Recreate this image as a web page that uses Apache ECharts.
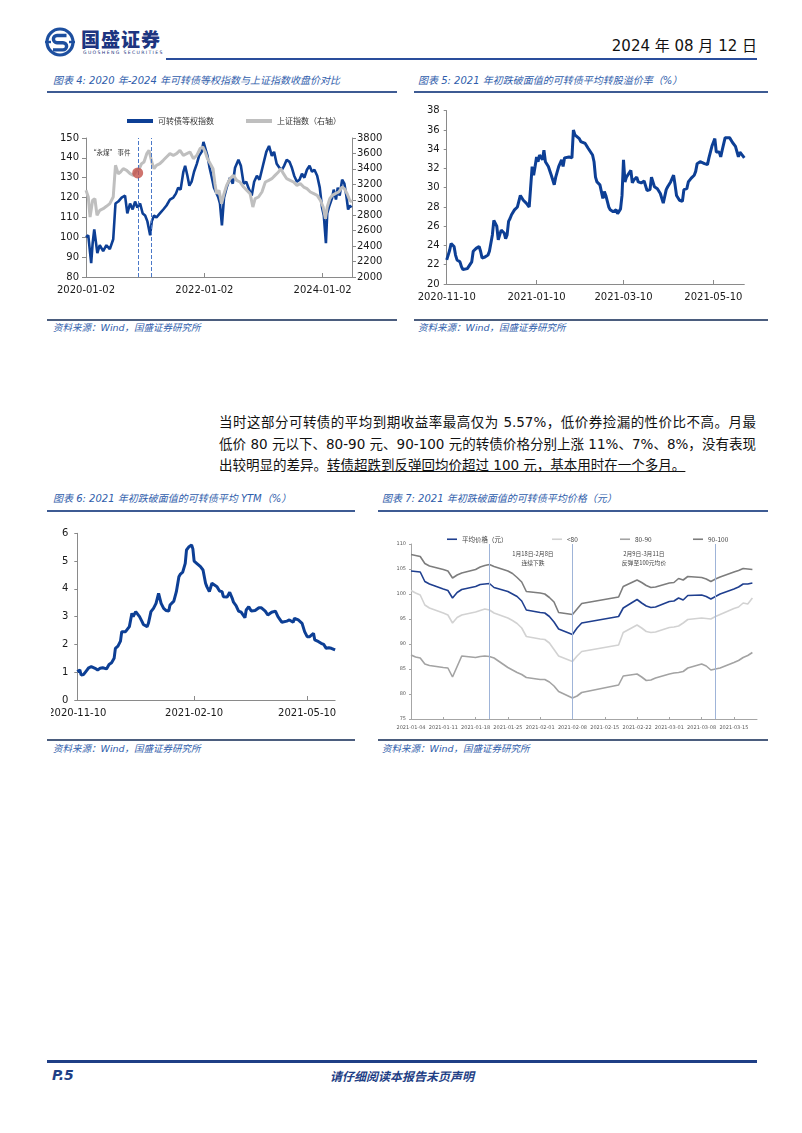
<!DOCTYPE html>
<html><head><meta charset="utf-8">
<script src="https://cdn.jsdelivr.net/npm/echarts@6/dist/echarts.min.js"></script>
<style>
html,body{margin:0;padding:0;background:#fff;}
body{width:802px;height:1133px;position:relative;overflow:hidden;font-family:"DejaVu Sans","Noto Sans CJK SC",sans-serif;}
.abs{position:absolute;white-space:nowrap;}
.ttl{position:absolute;white-space:nowrap;font-size:10px;line-height:12px;font-style:italic;color:#2f5dab;}
.src{position:absolute;white-space:nowrap;font-size:9.5px;line-height:12px;font-style:italic;color:#2f5dab;}
.uline{position:absolute;height:2px;background:#3e5b93;}
.sline{position:absolute;height:1.5px;background:#4b5d7e;}
.ch{position:absolute;overflow:hidden;}
.para{position:absolute;left:219px;width:537px;font-size:13.5px;line-height:18px;color:#111;white-space:nowrap;text-align:justify;text-align-last:justify;}
</style></head>
<body>
<!-- header -->
<svg class="abs" style="left:44px;top:27px" width="32" height="30" viewBox="0 0 32 30">
  <circle cx="16" cy="15" r="13" fill="none" stroke="#1d4f9f" stroke-width="3.2"/>
  <path d="M22.5 8.5 H13 a3.6 3.6 0 0 0 0 7.2 h6 a3.6 3.6 0 0 1 0 7.2 H9" fill="none" stroke="#1d4f9f" stroke-width="3.4"/>
  <rect x="1" y="13.8" width="6" height="2.4" fill="#1d4f9f"/>
  <rect x="25" y="13.8" width="6" height="2.4" fill="#1d4f9f"/>
</svg>
<div class="abs" style="left:81px;top:28px;font-size:19px;line-height:22px;font-weight:900;color:#1d3580;font-family:'Noto Sans CJK SC';letter-spacing:1px;">国盛证券</div>
<div class="abs" style="left:83px;top:50px;font-size:4.6px;line-height:5px;letter-spacing:1.35px;color:#1d3580;font-family:'DejaVu Sans';">GUOSHENG SECURITIES</div>
<div class="abs" style="right:45px;top:37px;font-size:15px;line-height:18px;color:#111;">2024 年 08 月 12 日</div>
<div class="abs" style="left:166px;top:58px;width:591px;height:2px;background:#2a4e9c;"></div>

<!-- chart titles row 1 -->
<div class="ttl" style="left:53px;top:75px;">图表 4: 2020 年-2024 年可转债等权指数与上证指数收盘价对比</div>
<div class="ttl" style="left:418px;top:75px;">图表 5: 2021 年初跌破面值的可转债平均转股溢价率（%）</div>
<div class="uline" style="left:47px;top:91px;width:350px;"></div>
<div class="uline" style="left:414px;top:91px;width:354px;"></div>

<div id="c4" class="ch" style="left:50px;top:95px;width:350px;height:222px;"></div>
<div id="c5" class="ch" style="left:412px;top:98px;width:356px;height:216px;"></div>

<div class="sline" style="left:47px;top:319px;width:350px;"></div>
<div class="sline" style="left:414px;top:319px;width:354px;"></div>
<div class="src" style="left:53px;top:322px;">资料来源：Wind，国盛证券研究所</div>
<div class="src" style="left:418px;top:322px;">资料来源：Wind，国盛证券研究所</div>

<!-- paragraph -->
<div class="para" style="top:413px;">当时这部分可转债的平均到期收益率最高仅为 5.57%，低价券捡漏的性价比不高。月最</div>
<div class="para" style="top:435px;">低价 80 元以下、80-90 元、90-100 元的转债价格分别上涨 11%、7%、8%，没有表现</div>
<div class="abs" style="left:219px;top:456px;font-size:13.5px;line-height:18px;color:#111;">出较明显的差异。<span style="text-decoration:underline;">转债超跌到反弹回均价超过 100 元，基本用时在一个多月。</span></div>

<!-- chart titles row 2 -->
<div class="ttl" style="left:53px;top:493px;">图表 6: 2021 年初跌破面值的可转债平均 YTM（%）</div>
<div class="ttl" style="left:382px;top:493px;">图表 7: 2021 年初跌破面值的可转债平均价格（元）</div>
<div class="uline" style="left:47px;top:510px;width:308px;"></div>
<div class="uline" style="left:378px;top:510px;width:390px;"></div>

<div id="c6" class="ch" style="left:51px;top:515px;width:300px;height:218px;"></div>
<div id="c7" class="ch" style="left:378px;top:515px;width:390px;height:220px;"></div>

<div class="sline" style="left:47px;top:739px;width:308px;"></div>
<div class="sline" style="left:378px;top:739px;width:390px;"></div>
<div class="src" style="left:53px;top:743px;">资料来源：Wind，国盛证券研究所</div>
<div class="src" style="left:382px;top:743px;">资料来源：Wind，国盛证券研究所</div>

<!-- footer -->
<div class="abs" style="left:47px;top:1060px;width:710px;height:2.5px;background:#1f3f86;"></div>
<div class="abs" style="left:52px;top:1067px;font-size:14px;line-height:16px;font-weight:bold;font-style:italic;color:#1f3f86;">P.5</div>
<div class="abs" style="left:330px;top:1068px;font-size:12px;line-height:15px;font-weight:bold;font-style:italic;color:#1f3f86;font-family:'Noto Sans CJK SC';">请仔细阅读本报告末页声明</div>

<script>
// ---------------- DATA ----------------
// Chart 4: 可转债等权指数 (left axis)
const c4CbDates = ['2020-01-02','2020-01-16','2020-02-03','2020-02-12','2020-02-22','2020-03-02','2020-03-12','2020-03-27','2020-04-17','2020-05-07','2020-05-28','2020-06-18','2020-07-02','2020-07-19','2020-08-09','2020-08-30','2020-09-13','2020-09-30','2020-10-16','2020-10-31','2020-11-14','2020-12-01','2020-12-17','2021-01-01','2021-01-15','2021-02-01','2021-02-11','2021-02-25','2021-03-12','2021-04-02','2021-04-23','2021-05-13','2021-06-03','2021-06-24','2021-07-10','2021-07-24','2021-08-08','2021-08-25','2021-09-05','2021-09-19','2021-10-01','2021-10-15','2021-10-30','2021-11-16','2021-11-30','2021-12-16','2021-12-27','2022-01-07','2022-01-21','2022-02-03','2022-02-17','2022-03-02','2022-03-14','2022-03-29','2022-04-08','2022-04-20','2022-05-03','2022-05-19','2022-06-09','2022-06-26','2022-07-10','2022-07-31','2022-08-15','2022-09-01','2022-09-17','2022-10-05','2022-10-21','2022-11-05','2022-11-22','2022-12-08','2022-12-29','2023-01-19','2023-02-05','2023-02-22','2023-03-08','2023-03-24','2023-04-10','2023-04-25','2023-05-09','2023-05-25','2023-06-11','2023-06-26','2023-07-10','2023-07-27','2023-08-12','2023-08-27','2023-09-11','2023-09-27','2023-10-13','2023-10-28','2023-11-12','2023-11-29','2023-12-15','2023-12-29','2024-01-09','2024-01-22','2024-01-30','2024-02-13','2024-03-01','2024-03-10','2024-03-24','2024-04-04','2024-04-16','2024-05-01','2024-05-15','2024-05-27','2024-06-07','2024-06-17','2024-06-28'];
const c4CbValues = [100,101,87,97,104,103,92,96,93,96,94,99,117,118,120,121,112,117,114,118,115,117,112,111,108,101,108,111,110,112,114,116,119,120,122,125,124,133,136,131,126,128,133,137,141,143,148,147,141,135,130,125,126,120,117,106,120,125,130,127,135,139,136,127,128,124,121,128,131,129,136,143,146,141,143,137,135,134,136,139,138,135,131,128,129,132,130,134,136,133,134,131,125,115,111,97,112,116,120,124,119,125,121,129,127,121,114,116,115];
// Chart 4: 上证指数 (right axis)
const c4SseDates = ['2020-01-02','2020-01-16','2020-01-27','2020-02-12','2020-02-26','2020-03-10','2020-03-27','2020-04-17','2020-05-07','2020-05-28','2020-06-18','2020-07-02','2020-07-19','2020-08-02','2020-08-19','2020-09-09','2020-09-30','2020-10-20','2020-11-10','2020-11-26','2020-12-10','2020-12-25','2021-01-11','2021-01-25','2021-02-11','2021-02-25','2021-03-12','2021-04-02','2021-04-23','2021-05-13','2021-06-03','2021-06-24','2021-07-14','2021-08-04','2021-08-25','2021-09-15','2021-10-05','2021-10-26','2021-11-16','2021-12-06','2021-12-23','2022-01-07','2022-01-21','2022-02-07','2022-02-24','2022-03-08','2022-03-18','2022-04-02','2022-04-18','2022-05-03','2022-05-19','2022-06-09','2022-06-30','2022-07-20','2022-08-10','2022-09-01','2022-09-21','2022-10-11','2022-10-28','2022-11-11','2022-12-02','2022-12-23','2023-01-13','2023-02-03','2023-02-22','2023-03-14','2023-04-04','2023-04-18','2023-05-05','2023-05-25','2023-06-15','2023-07-06','2023-07-27','2023-08-17','2023-09-07','2023-09-27','2023-10-18','2023-11-08','2023-11-29','2023-12-19','2024-01-05','2024-01-19','2024-01-30','2024-02-15','2024-03-01','2024-03-20','2024-04-10','2024-05-01','2024-05-15','2024-06-01','2024-06-17','2024-07-01'];
const c4SseValues = [3122,3036,2777,2993,3014,2798,2863,2885,2915,2950,3036,3446,3338,3360,3403,3381,3338,3316,3381,3403,3468,3489,3597,3640,3489,3403,3446,3468,3511,3554,3597,3576,3597,3640,3576,3597,3619,3532,3576,3662,3683,3619,3532,3468,3403,3209,3079,3122,2950,3079,3187,3273,3316,3252,3230,3165,3122,3079,2906,3014,3036,3101,3230,3252,3273,3316,3360,3403,3338,3273,3252,3230,3187,3209,3165,3144,3101,3079,3057,2993,2906,2755,2906,3014,3057,3079,3101,3165,3144,3079,2993,2971];
const c4EventDates = ['2020-11-20','2021-02-07'];
const c4EventPoint = ['2020-11-16', 3347];
const c4XLabels = ['2020-01-02','2022-01-02','2024-01-02'];

// Chart 5: 平均转股溢价率 (%), x = days since 2020-11-10
const c5Start = '2020-11-10';
const c5Days = [0,1,2,3,5,6,7,9,10,11,14,15,17,18,19,20,22,23,24,26,28,29,31,32,33,34,35,36,37,39,40,41,42,43,44,46,48,50,52,54,56,58,59,60,61,62,63,65,66,67,69,71,73,74,76,78,79,80,83,85,86,87,90,91,92,94,96,99,100,101,102,104,105,106,107,108,110,111,112,113,115,116,118,119,120,121,122,125,126,127,129,130,132,133,134,136,138,139,141,143,145,147,149,150,152,154,155,156,158,160,161,163,164,166,168,169,170,172,175,177,178,180,182,183,185,186,187,189,192,194,196,198,199,201,202];
const c5Values = [22.5,23.0,23.5,24.2,23.9,23.0,22.5,22.3,21.8,21.5,21.6,21.7,22.3,23.4,23.5,23.7,23.9,23.4,22.7,22.8,23.0,23.4,25.1,26.6,26.5,26.0,24.6,25.1,25.6,25.3,24.7,25.1,26.5,26.8,27.2,27.7,28.0,29.2,28.7,28.4,28.0,32.2,31.3,32.2,33.2,32.7,33.4,32.9,33.9,32.7,32.2,31.3,30.3,31.1,32.2,32.9,32.2,33.1,33.2,33.1,36.0,35.5,35.1,34.8,34.9,34.6,34.1,33.4,32.7,31.1,30.6,30.3,30.5,28.9,29.6,29.2,28.0,27.7,27.8,27.5,27.7,27.3,27.8,29.2,32.9,30.6,31.1,31.8,30.5,30.8,31.1,30.6,30.5,30.6,30.7,29.7,29.8,31.1,30.1,29.9,29.4,28.4,29.8,30.1,30.6,31.3,30.3,29.2,28.7,28.6,29.8,29.9,30.6,31.0,31.3,31.7,32.5,32.7,32.5,32.4,33.1,34.3,35.1,33.7,33.7,33.2,33.9,35.2,35.2,34.7,34.3,33.2,33.7,33.3,33.1];
const c5XLabels = ['2020-11-10','2021-01-10','2021-03-10','2021-05-10'];

// Chart 6: 平均 YTM (%), x = days since 2020-11-10
const c6Start = '2020-11-10';
const c6Days = [0,2,3,5,7,9,11,14,16,18,20,23,25,27,29,30,32,34,35,36,38,39,41,43,44,46,47,49,51,52,55,56,58,60,62,63,64,66,68,70,72,73,76,78,80,81,83,85,86,88,90,91,92,94,97,99,101,102,104,106,107,110,112,114,115,118,120,122,123,125,127,129,132,133,135,137,140,143,145,148,150,153,156,158,161,165,167,170,171,174,177,179,181,183,186,187,190,192,194,196,198,200,203];
const c6Values = [1.02,1.08,0.90,0.92,1.04,1.16,1.20,1.14,1.08,1.14,1.16,1.12,1.28,1.34,1.50,1.86,1.94,2.12,2.46,2.52,2.46,2.44,2.64,3.12,3.00,3.18,3.20,3.00,2.82,2.72,2.64,2.76,3.18,3.30,3.48,3.54,3.84,3.48,3.30,3.22,3.20,3.42,3.56,3.90,4.44,4.52,4.60,4.92,5.40,5.52,5.58,5.44,5.00,4.92,4.80,4.68,4.20,4.08,3.90,4.20,4.24,4.08,3.92,3.90,3.72,3.71,3.88,3.66,3.52,3.40,3.20,3.16,2.96,3.24,3.36,3.20,3.22,3.32,3.32,3.20,3.06,3.16,3.20,3.00,2.80,2.84,2.88,2.80,2.94,2.88,2.76,2.46,2.28,2.28,2.40,2.16,2.10,2.04,2.00,1.86,1.88,1.86,1.80];
const c6XLabels = ['2020-11-10','2021-02-10','2021-05-10'];

// Chart 7: 平均价格 (元) by price bucket, trading days
const c7Dates = ['2021-01-04','2021-01-05','2021-01-06','2021-01-07','2021-01-08','2021-01-11','2021-01-12','2021-01-13','2021-01-14','2021-01-15','2021-01-18','2021-01-19','2021-01-20','2021-01-21','2021-01-22','2021-01-25','2021-01-26','2021-01-27','2021-01-28','2021-01-29','2021-02-01','2021-02-02','2021-02-03','2021-02-04','2021-02-05','2021-02-08','2021-02-09','2021-02-10','2021-02-18','2021-02-19','2021-02-22','2021-02-23','2021-02-24','2021-02-25','2021-02-26','2021-03-01','2021-03-02','2021-03-03','2021-03-04','2021-03-05','2021-03-08','2021-03-09','2021-03-10','2021-03-11','2021-03-12','2021-03-15','2021-03-16','2021-03-17','2021-03-18','2021-03-19'];
const c7Avg = [104.6,104.5,104.4,102.5,102.0,101.0,100.7,99.2,100.3,100.9,101.5,101.9,102.0,102.1,101.3,100.5,100.0,99.5,98.6,96.8,96.3,96.2,95.5,94.4,93.0,91.9,93.2,94.2,95.5,97.2,98.9,98.2,97.6,97.3,97.4,98.5,98.6,99.2,98.8,99.7,99.8,99.5,99.0,99.5,100.0,101.0,101.4,102.0,102.0,102.2];
const c7Below80 = [100.7,100.2,99.8,97.8,97.2,96.2,95.8,94.2,95.3,95.8,96.4,96.7,97.0,96.8,96.2,95.2,94.7,94.1,93.2,91.5,91.0,90.9,90.2,88.9,87.6,86.5,87.6,88.5,89.8,92.3,93.8,93.2,92.5,92.3,92.4,93.3,93.4,93.6,94.2,94.9,95.2,95.1,95.0,95.5,95.9,97.1,97.4,98.2,98.0,99.2];
const c7From80To90 = [87.8,87.4,87.2,86.0,85.7,85.3,85.2,83.4,85.5,87.6,87.3,87.5,87.6,87.5,87.2,85.3,84.8,84.3,83.9,83.3,82.9,82.9,82.4,81.6,80.5,79.2,79.6,80.3,81.8,83.6,84.0,83.4,82.7,82.8,83.2,84.0,84.2,84.3,84.5,85.2,86.0,85.6,84.8,85.0,85.2,86.3,86.7,87.3,87.7,88.3];
const c7From90To100 = [107.9,107.7,107.5,106.1,105.6,104.9,104.6,103.2,103.8,104.2,104.9,105.4,105.7,105.9,105.5,104.6,104.1,103.3,102.4,100.5,100.2,100.0,99.3,98.4,96.3,95.9,97.0,98.1,99.4,101.5,102.8,102.3,101.7,101.3,101.4,102.2,102.3,103.1,102.8,103.5,103.3,103.0,102.5,103.0,103.4,104.4,104.7,105.1,105.0,104.9];
const c7Periods = ['2021-01-21','2021-02-08','2021-03-11'];
const c7XLabels = ['2021-01-04','2021-01-11','2021-01-18','2021-01-25','2021-02-01','2021-02-08','2021-02-15','2021-02-22','2021-03-01','2021-03-08','2021-03-15'];
const c7Notes = [['1月18日-2月8日','连续下跌'],['2月9日-3月11日','反弹至100元均价']];

// ---------------- HELPERS ----------------
function ts(s){const p=s.split('-').map(Number);return new Date(p[0],p[1]-1,p[2]).getTime();}
function addDays(s,n){const p=s.split('-').map(Number);return new Date(p[0],p[1]-1,p[2]+n).getTime();}
function fmt(v){const d=new Date(v);return d.getFullYear()+'-'+String(d.getMonth()+1).padStart(2,'0')+'-'+String(d.getDate()).padStart(2,'0');}
function pairs(dates,vals){return dates.map((d,i)=>[ts(d),vals[i]]);}
function dayPairs(start,days,vals){return days.map((d,i)=>[addDays(start,d),vals[i]]);}
const plain = v => String(v);

const AX = '#8a8a8a';
const LBL = {fontFamily:'DejaVu Sans',fontSize:10,color:'#1a1a1a'};
const BLUE = '#0d3f95';

function dateAxis(min,max,labels,lbl,tickLen,color,margin){
  const vals = labels.map(ts);
  return {type:'value',min:min,max:max,scale:true,
    axisLine:{show:true,lineStyle:{color:color}},
    axisTick:{show:true,inside:true,length:tickLen,lineStyle:{color:color},customValues:vals},
    axisLabel:Object.assign({customValues:vals,formatter:fmt,margin:margin,hideOverlap:false,showMinLabel:true,showMaxLabel:true},lbl),
    splitLine:{show:false}};
}
function grid(l,t,w,h){return {left:l,top:t,width:w,height:h,containLabel:false,outerBoundsMode:'none'};}

// ---------------- CHART 4 ----------------
const c4 = echarts.init(document.getElementById('c4'));
c4.setOption({
  animation:false,
  grid:grid(36,43,266,139),
  legend:{left:72,top:17,icon:'rect',itemWidth:26,itemHeight:4,itemGap:32,
    textStyle:{fontSize:8,color:'#333',fontFamily:'Noto Sans CJK SC'},
    data:['可转债等权指数','上证指数（右轴）']},
  graphic:[{type:'text',left:40,top:54,style:{text:'“永煤” 事件',font:'6.5px "Noto Sans CJK SC"',fill:'#333'}}],
  xAxis:dateAxis(ts(c4CbDates[0]),ts(c4SseDates[c4SseDates.length-1]),c4XLabels,LBL,4,AX,8),
  yAxis:[
    {type:'value',min:80,max:150,interval:10,axisLine:{show:true,lineStyle:{color:AX}},
     axisTick:{show:true,length:4,lineStyle:{color:AX}},axisLabel:Object.assign({margin:7,formatter:plain},LBL),splitLine:{show:false}},
    {type:'value',min:2000,max:3800,interval:200,position:'right',axisLine:{show:true,lineStyle:{color:AX}},
     axisTick:{show:true,length:4,lineStyle:{color:AX}},axisLabel:Object.assign({margin:5,formatter:plain},LBL),splitLine:{show:false}}
  ],
  series:[
    {name:'可转债等权指数',type:'line',yAxisIndex:0,showSymbol:false,symbol:'none',
     data:pairs(c4CbDates,c4CbValues),lineStyle:{color:BLUE,width:2.6},itemStyle:{color:BLUE},
     markLine:{silent:true,symbol:'none',label:{show:false},lineStyle:{type:'dashed',color:'#4a78c8',width:1},
       data:c4EventDates.map(d=>({xAxis:ts(d)}))}},
    {name:'上证指数（右轴）',type:'line',yAxisIndex:1,showSymbol:false,symbol:'none',
     data:pairs(c4SseDates,c4SseValues),lineStyle:{color:'#bfbfbf',width:3},itemStyle:{color:'#bfbfbf'}},
    {name:'event',type:'scatter',yAxisIndex:1,symbolSize:11,z:5,
     data:[[ts(c4EventPoint[0]),c4EventPoint[1]]],itemStyle:{color:'#c3514a'}}
  ]
});

// ---------------- CHART 5 ----------------
const c5 = echarts.init(document.getElementById('c5'));
c5.setOption({
  animation:false,
  grid:grid(34.7,12.7,297.6,173.3),
  xAxis:dateAxis(addDays(c5Start,0),addDays(c5Start,c5Days[c5Days.length-1]),c5XLabels,LBL,4,AX,8),
  yAxis:{type:'value',min:20,max:38,interval:2,axisLine:{show:true,lineStyle:{color:AX}},
    axisTick:{show:true,length:3,lineStyle:{color:AX}},axisLabel:Object.assign({margin:7},LBL),splitLine:{show:false}},
  series:[{name:'平均转股溢价率',type:'line',showSymbol:false,symbol:'none',
    data:dayPairs(c5Start,c5Days,c5Values),lineStyle:{color:BLUE,width:3},itemStyle:{color:BLUE}}]
});

// ---------------- CHART 6 ----------------
const c6 = echarts.init(document.getElementById('c6'));
c6.setOption({
  animation:false,
  grid:grid(26.3,18.3,257.8,166.7),
  xAxis:dateAxis(addDays(c6Start,0),addDays(c6Start,c6Days[c6Days.length-1]),c6XLabels,LBL,4,AX,8),
  yAxis:{type:'value',min:0,max:6,interval:1,axisLine:{show:true,lineStyle:{color:AX}},
    axisTick:{show:true,length:3,lineStyle:{color:AX}},axisLabel:Object.assign({margin:9},LBL),splitLine:{show:false}},
  series:[{name:'平均YTM',type:'line',showSymbol:false,symbol:'none',
    data:dayPairs(c6Start,c6Days,c6Values),lineStyle:{color:BLUE,width:3},itemStyle:{color:BLUE}}]
});

// ---------------- CHART 7 ----------------
const c7 = echarts.init(document.getElementById('c7'));
const small = {fontFamily:'DejaVu Sans',fontSize:5,color:'#595959'};
const legTxt = {fontSize:6.5,color:'#444',fontFamily:'Noto Sans CJK SC'};
const c7Series = [
  ['平均价格（元）',c7Avg,'#1f3f8f',1.6],
  ['<80',c7Below80,'#d2d2d2',1.6],
  ['80-90',c7From80To90,'#a3a3a3',1.6],
  ['90-100',c7From90To100,'#7d7d7d',1.6]
];
const c7LegendLeft = [64,169,237,310];
c7.setOption({
  animation:false,
  grid:grid(33,29,346,175),
  legend:c7Series.map((s,i)=>({left:c7LegendLeft[i],top:16,icon:'rect',itemWidth:10,itemHeight:1.6,
     textStyle:legTxt,data:[s[0]]})),
  graphic:c7Notes.map((n,i)=>({type:'text',x:[155,266][i],y:34,
     style:{text:n[0]+'\n'+n[1],align:'center',verticalAlign:'top',lineHeight:9,font:'5.8px "Noto Sans CJK SC"',fill:'#444'}})),
  xAxis:dateAxis(ts(c7Dates[0]),ts('2021-03-20'),c7XLabels,small,2,'#a6a6a6',6),
  yAxis:{type:'value',min:75,max:110,interval:5,axisLine:{show:true,lineStyle:{color:'#a6a6a6'}},
    axisTick:{show:true,length:2,lineStyle:{color:'#a6a6a6'}},axisLabel:Object.assign({margin:5},small),splitLine:{show:false}},
  series:c7Series.map((s,i)=>{
    const o={name:s[0],type:'line',showSymbol:false,symbol:'none',data:pairs(c7Dates,s[1]),
      lineStyle:{color:s[2],width:s[3]},itemStyle:{color:s[2]},z:i===0?4:2};
    if(i===0){o.markLine={silent:true,symbol:'none',label:{show:false},lineStyle:{type:'solid',color:'#9fb4d8',width:1},
      data:c7Periods.map(d=>({xAxis:ts(d)}))};}
    return o;})
});
</script>
</body></html>
